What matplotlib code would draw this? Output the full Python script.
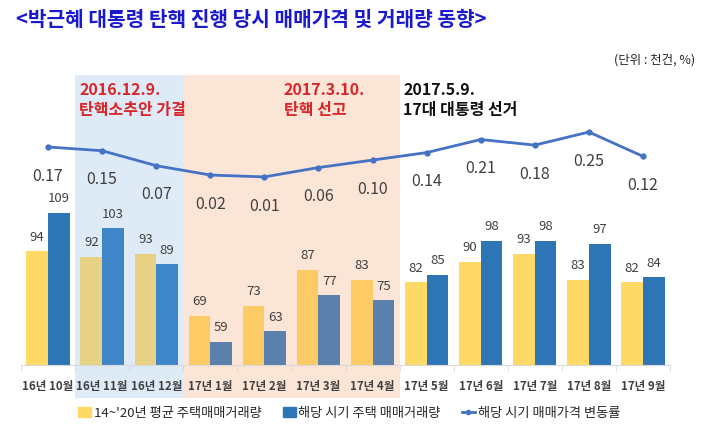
import matplotlib
matplotlib.use("Agg")
import matplotlib.pyplot as plt
from matplotlib.patches import Rectangle
from matplotlib.lines import Line2D
import numpy as np

plt.rcParams['font.family'] = ['Noto Sans CJK KR', 'DejaVu Sans']

categories = ['16년 10월', '16년 11월', '16년 12월', '17년 1월', '17년 2월', '17년 3월',
              '17년 4월', '17년 5월', '17년 6월', '17년 7월', '17년 8월', '17년 9월']
avg_volume = [94, 92, 93, 69, 73, 87, 83, 82, 90, 93, 83, 82]
period_volume = [109, 103, 89, 59, 63, 77, 75, 85, 98, 98, 97, 84]
price_change = [0.17, 0.15, 0.07, 0.02, 0.01, 0.06, 0.10, 0.14, 0.21, 0.18, 0.25, 0.12]
region = ['n', 'b', 'b', 'p', 'p', 'p', 'p', 'n', 'n', 'n', 'n', 'n']

title = '<박근혜 대통령 탄핵 진행 당시 매매가격 및 거래량 동향>'
unit = '(단위 : 천건, %)'
legend_labels = ["14~'20년 평균 주택매매거래량", '해당 시기 주택 매매거래량', '해당 시기 매매가격 변동률']

W, H = 720, 433
fig = plt.figure(figsize=(7.2, 4.33), dpi=100)
ax = fig.add_axes([21 / W, (H - 365) / H, (670 - 21) / W, (365 - 75) / H])
ax.set_xlim(-0.5, 11.5)
ax.set_ylim(50, 162.4)
for s in ['top', 'right', 'left']:
    ax.spines[s].set_visible(False)
ax.spines['bottom'].set_color('#d9d9d9')
ax.set_yticks([])
ax.set_xticks(np.arange(-0.5, 12, 1), minor=True)
ax.tick_params(axis='x', which='minor', length=4, color='#d9d9d9')
ax.tick_params(axis='x', which='major', length=0, pad=11)
x = np.arange(len(categories))
ax.set_xticks(x)
ax.set_xticklabels(categories, fontsize=8.3, color='#404040', fontweight='bold')

# shaded periods
ytr = ax.get_xaxis_transform()
ax.add_patch(Rectangle((0.5, -0.115), 2, 1.115, transform=ytr, facecolor='#deebf7',
                       edgecolor='none', zorder=0, clip_on=False))
ax.add_patch(Rectangle((2.5, -0.115), 4, 1.115, transform=ytr, facecolor='#fbe5d6',
                       edgecolor='none', zorder=0, clip_on=False))

ycol = {'n': '#ffd966', 'b': '#e6d184', 'p': '#fccb66'}
bcol = {'n': '#2e75b6', 'b': '#3f86c8', 'p': '#5a80ab'}
w = 0.4
ax.bar(x - w / 2, avg_volume, w, color=[ycol[r] for r in region], zorder=2)
ax.bar(x + w / 2, period_volume, w, color=[bcol[r] for r in region], zorder=2)
for i in range(len(x)):
    ax.text(x[i] - w / 2, avg_volume[i] + 3, str(avg_volume[i]), ha='center', va='bottom',
            fontsize=9.5, color='#404040', zorder=3)
    ax.text(x[i] + w / 2, period_volume[i] + 3, str(period_volume[i]), ha='center', va='bottom',
            fontsize=9.5, color='#404040', zorder=3)

ax2 = ax.twinx()
ax2.set_ylim(-0.996, 0.555)
ax2.axis('off')
ax2.plot(x, price_change, color='#4472c4', lw=2, marker='o', ms=3.5, zorder=4)
for i in range(len(x)):
    ax2.annotate(f'{price_change[i]:.2f}', (x[i], price_change[i]), xytext=(0, -21),
                 textcoords='offset points', ha='center', va='center', fontsize=11.5,
                 color='#404040')

# annotations
afs = 11.5
fig.text(79 / W, 1 - 90 / H, '2016.12.9.', fontsize=afs, color='#d9262b', fontweight='bold', va='center')
fig.text(79 / W, 1 - 110 / H, '탄핵소추안 가결', fontsize=afs, color='#d9262b', fontweight='bold', va='center')
fig.text(284 / W, 1 - 90 / H, '2017.3.10.', fontsize=afs, color='#d9262b', fontweight='bold', va='center')
fig.text(284 / W, 1 - 110 / H, '탄핵 선고', fontsize=afs, color='#d9262b', fontweight='bold', va='center')
fig.text(403 / W, 1 - 90 / H, '2017.5.9.', fontsize=afs, color='#111111', fontweight='bold', va='center')
fig.text(403 / W, 1 - 110 / H, '17대 대통령 선거', fontsize=afs, color='#111111', fontweight='bold', va='center')

fig.text(16 / W, 1 - 19 / H, title, fontsize=14.6, color='#1a1acc', fontweight='bold', va='center')
fig.text(695 / W, 1 - 60 / H, unit, fontsize=9, color='#262626', va='center', ha='right')

# legend
handles = [Rectangle((0, 0), 1, 1, color='#ffd966'),
           Rectangle((0, 0), 1, 1, color='#2e75b6'),
           Line2D([0], [0], color='#4472c4', lw=2, marker='o', ms=3)]
fig.legend(handles, legend_labels, loc='center', bbox_to_anchor=(349 / W, 1 - 413 / H), ncol=3,
           frameon=False, fontsize=9.5, handlelength=1.0, handletextpad=0.2, columnspacing=1.6,
           labelcolor='#262626')

fig.savefig('out.png', dpi=100)
